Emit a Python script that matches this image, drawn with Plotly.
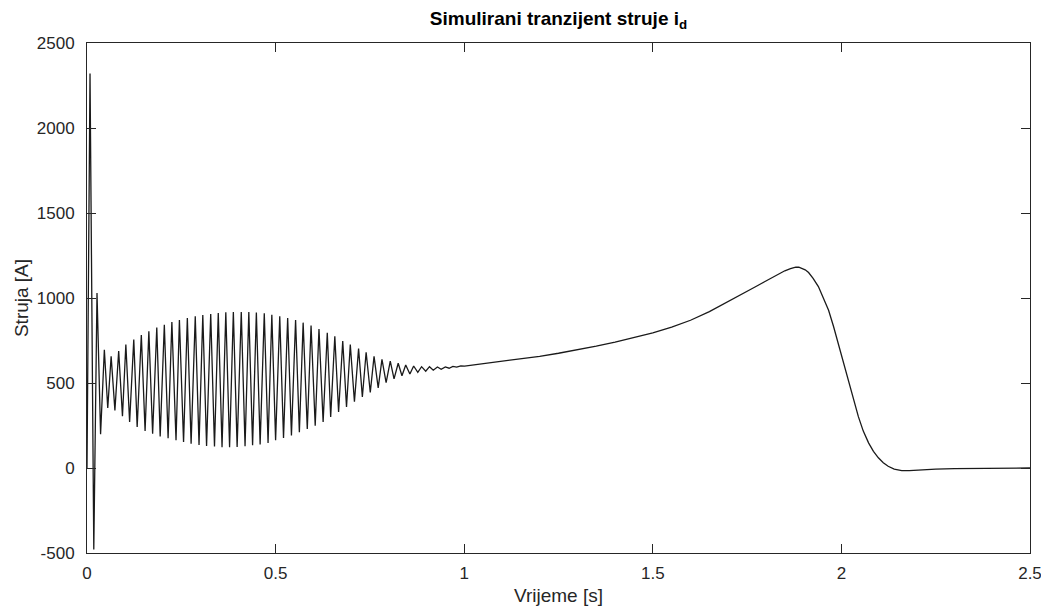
import plotly.graph_objs as go

# vremena [s] i struja i_d [A] - ocitano s grafa (vrhovi/dolovi oscilacija + glatki dio)
vrijeme = [
    0.000, 0.008, 0.018, 0.0265, 0.036, 0.046, 0.055, 0.064, 0.074, 0.084,
    0.094, 0.103, 0.113, 0.124, 0.133, 0.144, 0.154, 0.164, 0.174, 0.185,
    0.194, 0.205, 0.215, 0.225, 0.236, 0.245, 0.256, 0.266, 0.276, 0.287,
    0.297, 0.307, 0.317, 0.328, 0.338, 0.348, 0.358, 0.368, 0.378, 0.388,
    0.398, 0.409, 0.419, 0.429, 0.439, 0.449, 0.459, 0.470, 0.480, 0.490,
    0.500, 0.511, 0.521, 0.532, 0.542, 0.553, 0.563, 0.573, 0.584, 0.594,
    0.605, 0.615, 0.626, 0.637, 0.646, 0.657, 0.667, 0.678, 0.688, 0.698,
    0.709, 0.720, 0.730, 0.740, 0.751, 0.761, 0.772, 0.782, 0.793, 0.804,
    0.814, 0.825, 0.835, 0.845, 0.856, 0.866, 0.877, 0.887, 0.898, 0.908,
    0.918, 0.929, 0.939, 0.950, 0.960, 0.970, 0.980, 0.991, 1.001,
    1.05, 1.10, 1.15, 1.20, 1.25, 1.30, 1.35, 1.40, 1.45,
    1.50, 1.55, 1.60, 1.65, 1.70, 1.727, 1.75, 1.771, 1.795, 1.815,
    1.835, 1.85, 1.865, 1.872, 1.879, 1.887, 1.895, 1.904, 1.913, 1.925,
    1.939, 1.952, 1.966, 1.979, 1.992, 2.005, 2.019, 2.032, 2.045, 2.058,
    2.072, 2.085, 2.098, 2.111, 2.124, 2.14, 2.16, 2.18, 2.20, 2.25,
    2.30, 2.35, 2.42, 2.50,
]
struja = [
    0, 2320, -480, 1029, 198, 696, 353, 657, 339, 688,
    304, 726, 271, 755, 241, 782, 218, 804, 202, 826,
    186, 843, 175, 859, 163, 871, 153, 882, 143, 892,
    135, 900, 130, 906, 126, 912, 122, 916, 122, 918,
    124, 918, 128, 918, 134, 914, 139, 910, 147, 902,
    163, 892, 177, 882, 192, 871, 210, 855, 229, 838,
    249, 818, 271, 796, 300, 775, 329, 747, 359, 726,
    390, 702, 418, 681, 445, 657, 471, 639, 502, 629,
    524, 616, 543, 606, 553, 600, 563, 596, 569, 596,
    575, 594, 581, 595, 587, 598, 593, 601, 599,
    613, 627, 641, 657, 675, 695, 717, 741, 767,
    795, 829, 869, 920, 978, 1011, 1039, 1065, 1094, 1119,
    1143, 1160, 1173, 1179, 1182, 1181, 1176, 1166, 1150, 1116,
    1067, 1004, 928, 834, 732, 624, 516, 405, 302, 217,
    148, 98, 60, 31, 10, -7, -16, -16, -13, -7,
    -4, -2, -1, 0,
]

y_ticks = [-500, 0, 500, 1000, 1500, 2000, 2500]
y_tick_labels = ["-500", "0", "500", "1000", "1500", "2000", "2500"]
x_ticks = [0, 0.5, 1, 1.5, 2, 2.5]
x_tick_labels = ["0", "0.5", "1", "1.5", "2", "2.5"]

font = "Liberation Sans, Arial, sans-serif"
axcol = "#262626"

trace = go.Scatter(x=vrijeme, y=struja, mode="lines",
                   line=dict(color="#1a1a1a", width=1.3),
                   showlegend=False, hoverinfo="skip")
fig = go.Figure([trace])

# stranica ima 8px margine body-a, pa je figura manja za 8px
fig.update_layout(
    width=1041, height=608,
    margin=dict(l=79, r=19, t=35, b=63, autoexpand=False),
    paper_bgcolor="white", plot_bgcolor="white",
    font=dict(family=font, size=17, color=axcol),
    title=dict(text="<b>Simulirani tranzijent struje i<sub>d</sub></b>",
               x=0.5, xref="paper", xanchor="center",
               y=1, yref="paper", yanchor="bottom", pad=dict(b=18),
               font=dict(family=font, size=19, color="black"),
               automargin=False),
)
fig.update_xaxes(range=[0, 2.5], tickvals=x_ticks, ticktext=x_tick_labels,
                 showgrid=False, zeroline=False, showline=True, linecolor=axcol,
                 linewidth=1, mirror="allticks", ticks="inside", ticklen=9,
                 tickcolor=axcol, tickfont=dict(size=17), automargin=False,
                 ticklabelstandoff=5,
                 title=dict(text="Vrijeme [s]", font=dict(size=19), standoff=6))
fig.update_yaxes(range=[-500, 2500], tickvals=y_ticks, ticktext=y_tick_labels,
                 showgrid=False, zeroline=False, showline=True, linecolor=axcol,
                 linewidth=1, mirror="allticks", ticks="inside", ticklen=9,
                 tickcolor=axcol, tickfont=dict(size=17), automargin=False,
                 ticklabelstandoff=8,
                 title=dict(text="Struja [A]", font=dict(size=19), standoff=3))

fig.write_html("out.html")
